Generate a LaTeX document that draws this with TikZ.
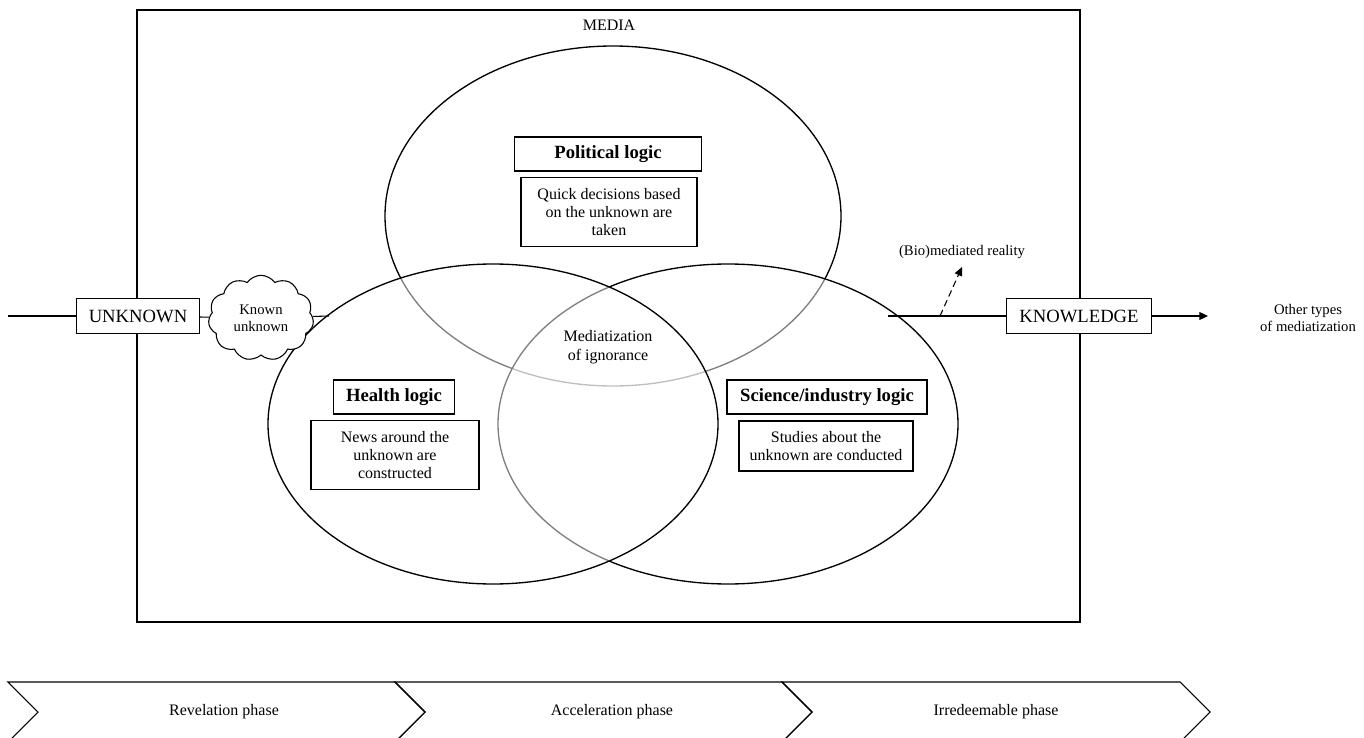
\documentclass[tikz,border=0pt]{standalone}
\usepackage{fontspec}
\setmainfont{Liberation Serif}
\usetikzlibrary{shapes.symbols, arrows.meta}

\tikzset{
  venn/.style = {line width=1pt, fill=white, fill opacity=0.5},
  endbox/.style = {draw, line width=0.9pt, fill=white, font=\fontsize{14}{16}\selectfont, inner sep=0pt, minimum height=26pt},
  logicbox/.style = {draw, line width=1pt, fill=white, font=\bfseries\fontsize{14}{16}\selectfont, inner sep=0pt, minimum height=25.5pt},
  infobox/.style = {draw, line width=1pt, fill=white, align=center, font=\fontsize{12}{13.8}\selectfont, inner sep=0pt},
  plain/.style = {align=center, font=\fontsize{12}{14}\selectfont},
  small/.style = {align=center, font=\fontsize{11}{13}\selectfont},
}

\begin{document}
\begin{tikzpicture}[x=0.75pt, y=-0.75pt, >={Triangle[length=6.5pt, width=6pt]}, line width=0.8pt]
\useasboundingbox (0,0) rectangle (1364,738);
\clip (0,0) rectangle (1364,738);

% media frame
\draw[line width=1.3pt] (137,10) rectangle (1080,622);
\node[plain] (media) at (609,25) {MEDIA};

% the three logics
\draw[venn] (613,216) ellipse [x radius=228, y radius=170];
\draw[venn] (728,424) ellipse [x radius=230, y radius=160];
\draw[venn] (493,424) ellipse [x radius=225, y radius=160];

\node[logicbox, minimum width=140pt] (polit) at (608,154) {Political logic};
\node[infobox, minimum width=132pt, minimum height=51.75pt] (politinfo) at (609,212) {Quick decisions based\\on the unknown are\\taken};
\node[logicbox, minimum width=91pt] (health) at (394,397) {Health logic};
\node[infobox, minimum width=126pt, minimum height=51.75pt] (healthinfo) at (395,455) {News around the\\unknown are\\constructed};
\node[logicbox, minimum width=150pt] (sci) at (827,397) {Science/industry logic};
\node[infobox, minimum width=130.5pt, minimum height=37.5pt] (sciinfo) at (826,446) {Studies about the\\unknown are conducted};
\node[plain] (ignorance) at (608,347) {Mediatization\\of ignorance};

% from unknown to knowledge
\coordinate (start) at (8,316);
\coordinate (healthW) at (329,316);
\coordinate (sciE) at (888,316);
\coordinate (tip) at (1208,316);
\node[endbox, minimum width=92pt] (unknown) at (138,316) {UNKNOWN};
\node[draw, cloud, cloud puffs=11, cloud puff arc=110, fill=white, inner sep=0pt,
      minimum width=79pt, minimum height=48pt, small] (known) at (261,318) {Known\\unknown};
\node[endbox, minimum width=109pt] (knowledge) at (1079,316) {KNOWLEDGE};
\node[small] (other) at (1308,318) {Other types\\of mediatization};

\draw (start) -- (unknown);
\draw (unknown) -- (known);
\draw (known) -- (healthW);
\draw (sciE) -- (knowledge);
\draw[->] (knowledge) -- (tip);

\coordinate (dashfoot) at (940,316);
\coordinate (dashtip) at (962,267);
\draw[dash pattern=on 5pt off 3pt, ->] (dashfoot) -- (dashtip);
\node[small] (bio) at (962,252) {(Bio)mediated reality};

% phases
\foreach \a/\b in {8/395, 395/782, 782/1180}
  \draw (\a,682) -- (\b,682) -- (\b+30,712) -- (\b,742) -- (\a,742) -- (\a+30,712) -- cycle;
\node[plain] (revelation) at (224,712) {Revelation phase};
\node[plain] (acceleration) at (612,712) {Acceleration phase};
\node[plain] (irredeemable) at (996,712) {Irredeemable phase};
\end{tikzpicture}
\end{document}
